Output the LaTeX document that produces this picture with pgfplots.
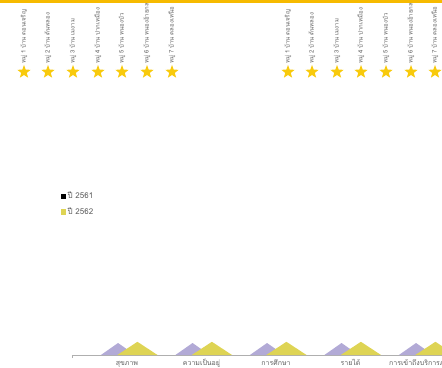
\documentclass[border=0pt]{standalone}
\usepackage{pgfplots}
\pgfplotsset{compat=1.18}
\usepackage{fontspec}
\newfontfamily\thaifont[Script=Thai]{Loma}
\definecolor{lav}{RGB}{178,170,214}
\definecolor{olv}{RGB}{222,212,84}
\definecolor{starY}{RGB}{248,202,12}
\definecolor{topY}{RGB}{246,186,0}
\definecolor{txt}{RGB}{95,95,95}
\definecolor{axc}{RGB}{175,175,175}
\pgfdeclareplotmark{fstar}{%
  \pgfmathsetlengthmacro\rin{0.42*\pgfplotmarksize}%
  \pgfpathmoveto{\pgfpointpolar{90}{\pgfplotmarksize}}%
  \pgfpathlineto{\pgfpointpolar{126}{\rin}}%
  \pgfpathlineto{\pgfpointpolar{162}{\pgfplotmarksize}}%
  \pgfpathlineto{\pgfpointpolar{198}{\rin}}%
  \pgfpathlineto{\pgfpointpolar{234}{\pgfplotmarksize}}%
  \pgfpathlineto{\pgfpointpolar{270}{\rin}}%
  \pgfpathlineto{\pgfpointpolar{306}{\pgfplotmarksize}}%
  \pgfpathlineto{\pgfpointpolar{342}{\rin}}%
  \pgfpathlineto{\pgfpointpolar{18}{\pgfplotmarksize}}%
  \pgfpathlineto{\pgfpointpolar{54}{\rin}}%
  \pgfpathclose\pgfusepathqfill}
\begin{document}
\begin{tikzpicture}
\useasboundingbox (0pt,0pt) rectangle (442pt,367pt);
\clip (0pt,0pt) rectangle (442pt,367pt);
% stars with village labels (page coordinates, y from bottom)
\begin{axis}[at={(0pt,0pt)}, anchor=south west, width=442pt, height=367pt,
  scale only axis, xmin=0, xmax=442, ymin=0, ymax=367, hide axis, clip=false]
\addplot[only marks, mark=fstar, mark size=7pt, color=starY,
  point meta=explicit symbolic, nodes near coords,
  every node near coord/.style={yshift=8pt, rotate=90, anchor=west, inner sep=0pt,
    text=txt, font=\thaifont\fontsize{6}{7}\selectfont}]
coordinates {
(24,295)[หมู่ 1 บ้าน ดอนเจริญ]
(48,295)[หมู่ 2 บ้าน ต้นหลอง]
(73,295)[หมู่ 3 บ้าน เมงาม]
(98,295)[หมู่ 4 บ้าน ปากเหมือง]
(122,295)[หมู่ 5 บ้าน หนองบัว]
(147,295)[หมู่ 6 บ้าน หนองอ้ายกลม]
(172,295)[หมู่ 7 บ้าน คลองเหนือ]
(288,295)[หมู่ 1 บ้าน ดอนเจริญ]
(312,295)[หมู่ 2 บ้าน ต้นหลอง]
(337,295)[หมู่ 3 บ้าน เมงาม]
(361,295)[หมู่ 4 บ้าน ปากเหมือง]
(386,295)[หมู่ 5 บ้าน หนองบัว]
(411,295)[หมู่ 6 บ้าน หนองอ้ายกลม]
(435,295)[หมู่ 7 บ้าน คลองเหนือ]
};
\end{axis}
% triangle chart
\begin{axis}[at={(72pt,12pt)}, anchor=south west, width=412.6pt, height=120pt,
  scale only axis, xmin=-0.738, xmax=4.8, ymin=0, ymax=100,
  axis x line=bottom, axis y line=none, axis line style={draw=axc, -},
  xtick={0,1,2,3,4},
  xticklabels={สุขภาพ,ความเป็นอยู่,การศึกษา,รายได้,การเข้าถึงบริการภาครัฐ},
  major tick length=0pt,
  extra x ticks={-0.738}, extra x tick labels={},
  extra x tick style={major tick length=3pt, tick align=outside, tick style={draw=axc}},
  xticklabel style={text=txt, font=\thaifont\fontsize{7}{8}\selectfont,
    anchor=north, text height=6pt, text depth=2pt, inner sep=0pt, yshift=-4pt},
  unbounded coords=jump,
  legend style={at={(axis description cs:-0.027,1.375)}, anchor=north west,
    draw=none, fill=none, text=txt, font=\thaifont\fontsize{8}{9}\selectfont,
    row sep=3pt, inner sep=0pt},
  legend cell align=left]
\addlegendimage{only marks, mark=square*, mark size=2.3pt, black}
\addlegendentry{ปี 2561}
\addlegendimage{only marks, mark=square*, mark size=2.3pt, olv}
\addlegendentry{ปี 2562}
% ปี 2561 (value 10 at each category)
\addplot[fill=lav, draw=none, forget plot] coordinates {
(-0.35,0) (-0.12,10) (0.11,0) (nan,nan)
(0.65,0) (0.88,10) (1.11,0) (nan,nan)
(1.65,0) (1.88,10) (2.11,0) (nan,nan)
(2.65,0) (2.88,10) (3.11,0) (nan,nan)
(3.65,0) (3.88,10) (4.11,0)
};
% ปี 2562 (value 11 at each category)
\addplot[fill=olv, draw=none, forget plot] coordinates {
(-0.13,0) (0.14,11) (0.41,0) (nan,nan)
(0.87,0) (1.14,11) (1.41,0) (nan,nan)
(1.87,0) (2.14,11) (2.41,0) (nan,nan)
(2.87,0) (3.14,11) (3.41,0) (nan,nan)
(3.87,0) (4.14,11) (4.41,0)
};
\end{axis}
\fill[topY] (0pt,364pt) rectangle (442pt,367pt);
\end{tikzpicture}
\end{document}
